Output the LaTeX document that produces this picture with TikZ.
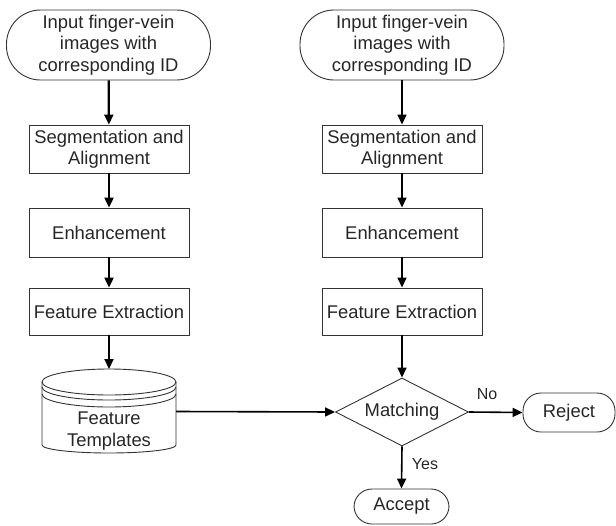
\documentclass[tikz,border=0pt]{standalone}
\usepackage{fontspec}
\setmainfont{Liberation Sans}
\usetikzlibrary{shapes.geometric,arrows.meta}
\begin{document}
\begin{tikzpicture}[x=1pt,y=-1pt,
  font=\fontsize{18.4}{21.5}\selectfont,
  every node/.style={text=black!85},
  term/.style={draw=black!80, line width=0.9pt, rounded corners=34pt, minimum width=204pt, minimum height=70pt, align=center, inner sep=0pt},
  procbox/.style={draw=black!80, line width=0.9pt, minimum width=160pt, minimum height=48pt, align=center, inner sep=0pt},
  decis/.style={draw=black!80, line width=0.9pt, diamond, aspect=1.96, minimum width=133pt, minimum height=68pt, inner sep=0pt},
  endterm/.style={draw=black!80, line width=0.9pt, rounded corners=18pt, minimum height=37pt, inner sep=0pt},
  arL/.style={line width=2.2pt, -{Triangle[length=10pt,width=9pt]}},
  arR/.style={line width=1.6pt, -{Triangle[length=10pt,width=9pt]}},
  lbl/.style={font=\fontsize{16}{18}\selectfont},
  cyl/.style={draw=black!80, line width=0.9pt}
]
\useasboundingbox (0,0) rectangle (616,525);
% left column
\node[term] (tl) at (108.5,45) {Input finger-vein\\images with\\corresponding ID};
\node[procbox] (sl) at (109,149) {Segmentation and\\Alignment};
\node[procbox, minimum height=49pt] (el) at (109,232.5) {Enhancement};
\node[procbox, minimum height=47pt] (fl) at (109,311.5) {Feature Extraction};
% cylinder
\draw[cyl] (42,382) -- (42,445) arc[start angle=180, end angle=0, x radius=67, y radius=8] -- (176,382);
\draw[cyl] (109,382) ellipse [x radius=67, y radius=13];
\draw[cyl] (42,387) arc[start angle=180, end angle=0, x radius=67, y radius=13];
\draw[cyl] (42,394) arc[start angle=180, end angle=0, x radius=67, y radius=13];
\node[align=center] (db) at (109,431) {Feature\\Templates};
\coordinate (dbtop) at (109,369);
\coordinate (dbright) at (176,411.5);
% right column
\node[term] (tr) at (402,45) {Input finger-vein\\images with\\corresponding ID};
\node[procbox] (sr) at (402,149) {Segmentation and\\Alignment};
\node[procbox, minimum height=49pt] (er) at (402,232.5) {Enhancement};
\node[procbox, minimum height=47pt] (fr) at (402,311.5) {Feature Extraction};
\node[decis] (dm) at (402,412) {Matching};
\node[endterm, minimum width=92pt, minimum height=39pt] (rej) at (569,412.5) {Reject};
\node[endterm, minimum width=95pt, minimum height=35pt] (acc) at (401.5,506.5) {Accept};
% connectors
\draw[arL] (tl) -- (sl);
\draw[arL] (sl) -- (el);
\draw[arL] (el) -- (fl);
\draw[arL] (fl) -- (dbtop);
\draw[arR] (tr) -- (sr);
\draw[arR] (sr) -- (er);
\draw[arR] (er) -- (fr);
\draw[arR] (fr) -- (dm);
\draw[arR] (dbright) -- (dm.west);
\draw[arR] (dm.east) -- (rej.west);
\draw[arR] (dm.south) -- (acc.north);
\node[lbl] (no) at (487,394) {No};
\node[lbl] (yes) at (425,464) {Yes};
\end{tikzpicture}
\end{document}
